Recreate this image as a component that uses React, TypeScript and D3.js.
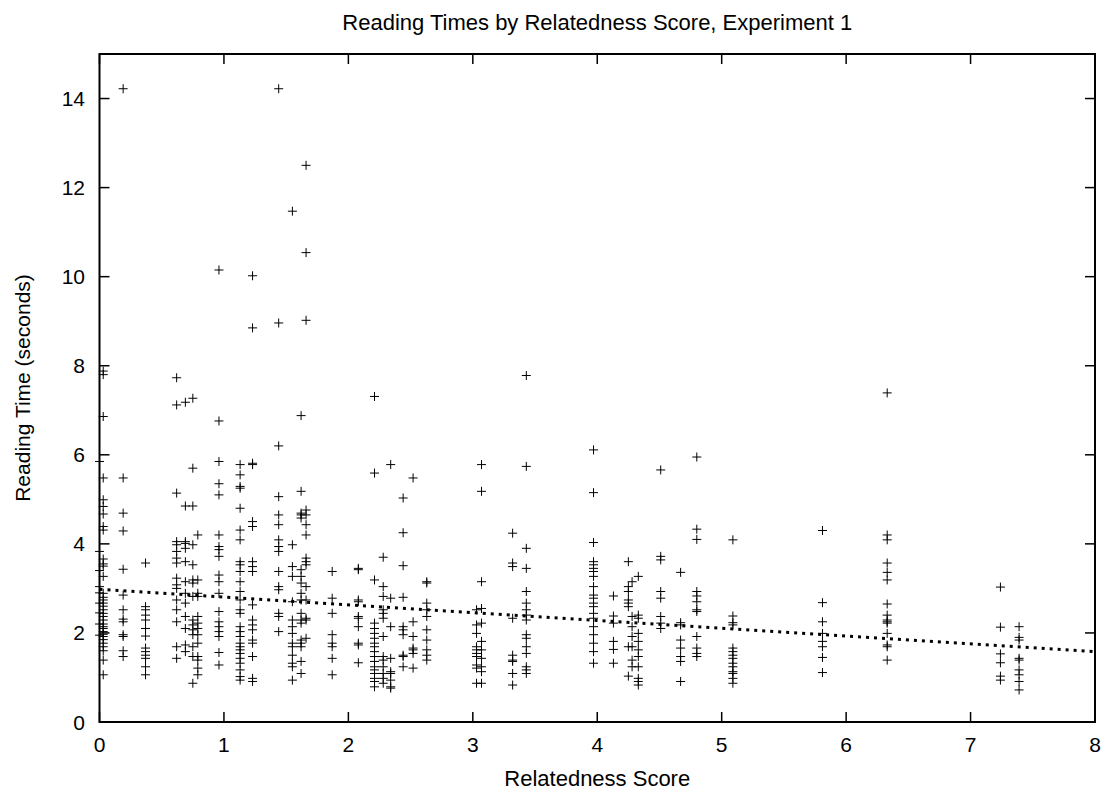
import React from 'react';
import * as d3 from 'd3';

const xTicks = [0, 1, 2, 3, 4, 5, 6, 7, 8];
const yTicks = [0, 2, 4, 6, 8, 10, 12, 14];

const relatednessScores = [
  0.0, 0.03, 0.19, 0.37, 0.62, 0.69, 0.75, 0.79, 0.96, 1.13, 1.23, 1.44, 1.55, 1.62, 1.66, 1.87,
  2.08, 2.21, 2.28, 2.34, 2.44, 2.52, 2.63, 3.03, 3.07, 3.32, 3.43,
  3.97, 4.13, 4.25, 4.28, 4.33, 4.51, 4.67, 4.8, 5.09, 5.81, 6.33, 7.24, 7.39,
];

const readingTimes = [
  [5.85, 3.83, 3.4, 3.04, 2.9, 2.67, 2.45, 2.2, 1.95],
  [7.88, 7.8, 6.86, 5.48, 4.99, 4.84, 4.67, 4.39, 4.31, 3.66, 3.55, 3.5, 3.27, 2.89, 2.8, 2.74, 2.67, 2.6, 2.52, 2.44, 2.37, 2.29, 2.2, 2.14, 2.1, 2.03, 1.97, 1.92, 1.85, 1.77, 1.69, 1.6, 1.39, 1.06],
  [14.22, 5.48, 4.69, 4.29, 3.43, 2.85, 2.52, 2.31, 2.25, 1.96, 1.92, 1.6, 1.47],
  [3.57, 2.59, 2.52, 2.4, 2.29, 2.1, 1.93, 1.66, 1.58, 1.5, 1.43, 1.24, 1.06],
  [7.73, 7.12, 5.14, 4.05, 3.98, 3.83, 3.68, 3.57, 3.23, 3.08, 3.0, 2.74, 2.52, 2.25, 1.69, 1.43],
  [7.18, 4.85, 4.05, 4.01, 3.9, 3.6, 3.15, 2.89, 2.67, 2.37, 2.1, 1.73, 1.58],
  [7.27, 5.7, 4.85, 3.98, 3.53, 3.19, 3.12, 2.82, 2.29, 2.18, 2.07, 1.96, 1.69, 1.47, 0.87],
  [4.2, 3.19, 2.89, 2.82, 2.37, 2.22, 2.1, 1.96, 1.77, 1.47, 1.39, 1.21, 1.06],
  [10.15, 6.76, 5.85, 5.35, 5.1, 4.2, 3.94, 3.87, 3.72, 3.3, 3.15, 2.89, 2.48, 2.25, 2.14, 2.03, 1.92, 1.56, 1.28],
  [5.78, 5.55, 5.29, 5.25, 4.8, 4.31, 4.09, 3.6, 3.53, 3.38, 3.15, 2.93, 2.74, 2.52, 2.44, 2.14, 2.03, 1.92, 1.77, 1.69, 1.62, 1.54, 1.43, 1.32, 1.17, 1.02, 0.94],
  [10.02, 8.85, 5.81, 5.78, 4.5, 4.39, 3.6, 3.49, 3.38, 2.63, 2.29, 2.18, 2.07, 1.84, 1.77, 1.47, 0.98, 0.91],
  [14.22, 8.96, 6.2, 5.06, 4.65, 4.43, 4.09, 3.94, 3.83, 3.38, 3.04, 2.97, 2.44, 2.37, 2.03],
  [11.47, 3.98, 3.49, 3.27, 2.7, 2.29, 2.14, 1.99, 1.77, 1.69, 1.5, 1.32, 1.24, 0.94],
  [6.88, 5.18, 4.69, 4.65, 4.58, 3.42, 3.27, 3.12, 2.89, 2.74, 2.44, 2.29, 2.22, 1.84, 1.77, 1.69, 1.36, 1.09],
  [12.5, 10.54, 9.02, 4.76, 4.65, 4.43, 4.2, 3.68, 3.6, 3.53, 3.04, 2.74, 2.33, 2.29, 1.88],
  [3.38, 2.78, 2.44, 1.96, 1.77, 1.69, 1.43, 1.06],
  [3.45, 3.42, 2.74, 2.7, 2.37, 2.33, 2.14, 1.77, 1.73, 1.33],
  [7.31, 5.59, 3.19, 2.22, 2.1, 1.99, 1.88, 1.77, 1.69, 1.58, 1.47, 1.36, 1.24, 1.17, 1.09, 0.98, 0.91, 0.79],
  [3.7, 3.04, 2.82, 2.52, 2.44, 2.33, 1.92, 1.47, 1.39, 1.24, 1.09, 0.98, 0.87],
  [5.78, 2.78, 2.14, 1.43, 1.13, 1.09, 0.94, 0.79, 0.76],
  [5.03, 4.25, 3.51, 2.8, 2.14, 2.07, 1.96, 1.5, 1.47, 1.24],
  [5.48, 2.25, 1.92, 1.66, 1.62, 1.54, 1.21],
  [3.15, 3.12, 2.67, 2.52, 2.37, 2.07, 1.84, 1.62, 1.5, 1.39],
  [2.52, 2.18, 1.99, 1.69, 1.62, 1.54, 1.47, 1.28, 1.21, 0.87],
  [5.78, 5.18, 3.15, 2.55, 2.22, 1.81, 1.62, 1.43, 1.24, 1.13, 0.87],
  [4.24, 3.57, 3.49, 2.33, 1.5, 1.39, 1.36, 1.09, 0.83],
  [7.78, 5.74, 3.9, 3.45, 2.93, 2.67, 2.52, 2.4, 2.29, 1.96, 1.88, 1.69, 1.54, 1.24, 1.17, 1.09],
  [6.11, 5.15, 4.03, 3.6, 3.53, 3.45, 3.38, 3.27, 3.04, 2.85, 2.78, 2.67, 2.59, 2.44, 2.33, 2.14, 1.96, 1.77, 1.58, 1.32],
  [2.83, 2.38, 2.22, 1.81, 1.63, 1.32],
  [3.6, 3.04, 2.93, 2.74, 2.67, 2.59, 1.69, 1.03],
  [3.15, 2.37, 2.14, 1.92, 1.69, 1.39, 1.24],
  [3.27, 2.4, 2.33, 1.99, 1.81, 1.62, 1.47, 1.24, 0.98, 0.91, 0.83],
  [5.66, 3.72, 3.64, 2.93, 2.78, 2.37, 2.22, 2.1],
  [3.36, 2.23, 2.18, 1.84, 1.66, 1.47, 1.36, 0.91],
  [5.95, 4.33, 4.1, 2.93, 2.83, 2.7, 2.52, 2.48, 1.92, 1.66, 1.54, 1.47],
  [4.09, 2.38, 2.23, 2.18, 1.66, 1.58, 1.5, 1.43, 1.32, 1.24, 1.13, 1.09, 0.98, 0.87],
  [4.3, 2.68, 2.25, 1.99, 1.81, 1.69, 1.45, 1.11],
  [7.39, 4.2, 4.09, 3.57, 3.36, 3.19, 2.65, 2.4, 2.29, 2.25, 2.22, 1.99, 1.73, 1.69, 1.39],
  [3.03, 2.13, 1.53, 1.33, 1.03, 0.94],
  [2.14, 1.9, 1.84, 1.43, 1.39, 1.17, 1.06, 0.91, 0.72],
];

const trendIntercept = 2.98;
const trendSlope = -0.175;

const FONT = '"Liberation Sans", Arial, Helvetica, sans-serif';

export default function App() {
  const W = 1115;
  const H = 794;
  const left = 99.5;
  const right = 1095;
  const top = 54;
  const bottom = 722;
  const x = d3.scaleLinear().domain([0, 8]).range([left, right]);
  const y = d3.scaleLinear().domain([0, 15]).range([bottom, top]);

  const points: [number, number][] = relatednessScores.flatMap((s, i) =>
    readingTimes[i].map((t) => [s, t] as [number, number])
  );

  const crossPath = points
    .map(([s, t]) => {
      const cx = x(s);
      const cy = y(t);
      return `M${cx - 4.5},${cy}h9M${cx},${cy - 4.5}v9`;
    })
    .join('');

  const trendLine = d3
    .line<number>()
    .x((d) => x(d))
    .y((d) => y(trendIntercept + trendSlope * d))([0, 8]) as string;

  const tickLen = 10;

  return (
    <svg
      width={W}
      height={H}
      viewBox={`0 0 ${W} ${H}`}
      style={{ position: 'absolute', left: 0, top: 0, background: '#fff' }}
      fontFamily={FONT}
    >
      <rect x={0} y={0} width={W} height={H} fill="#fff" />
      <path d={crossPath} stroke="#000" strokeWidth={1} fill="none" />
      <path d={trendLine} stroke="#000" strokeWidth={3} strokeDasharray="3 5" fill="none" />

      {xTicks.map((t) => (
        <g key={'x' + t}>
          <line x1={x(t)} x2={x(t)} y1={bottom} y2={bottom - tickLen} stroke="#000" strokeWidth={1.5} />
          <line x1={x(t)} x2={x(t)} y1={top} y2={top + tickLen} stroke="#000" strokeWidth={1.5} />
          <text x={x(t)} y={752} textAnchor="middle" fontSize={21} fill="#000">
            {t}
          </text>
        </g>
      ))}
      {yTicks.map((t) => (
        <g key={'y' + t}>
          <line x1={left} x2={left + tickLen} y1={y(t)} y2={y(t)} stroke="#000" strokeWidth={1.5} />
          <line x1={right} x2={right - tickLen} y1={y(t)} y2={y(t)} stroke="#000" strokeWidth={1.5} />
          <text x={85} y={y(t) + 7.5} textAnchor="end" fontSize={21} fill="#000">
            {t}
          </text>
        </g>
      ))}

      <rect x={left} y={top} width={right - left} height={bottom - top} fill="none" stroke="#000" strokeWidth={2} />

      <text x={(left + right) / 2} y={30} textAnchor="middle" fontSize={22} fill="#000">
        Reading Times by Relatedness Score, Experiment 1
      </text>
      <text x={(left + right) / 2} y={786} textAnchor="middle" fontSize={22} fill="#000">
        Relatedness Score
      </text>
      <text
        transform={`translate(30,${(top + bottom) / 2}) rotate(-90)`}
        textAnchor="middle"
        fontSize={21}
        fill="#000"
      >
        Reading Time (seconds)
      </text>
    </svg>
  );
}
